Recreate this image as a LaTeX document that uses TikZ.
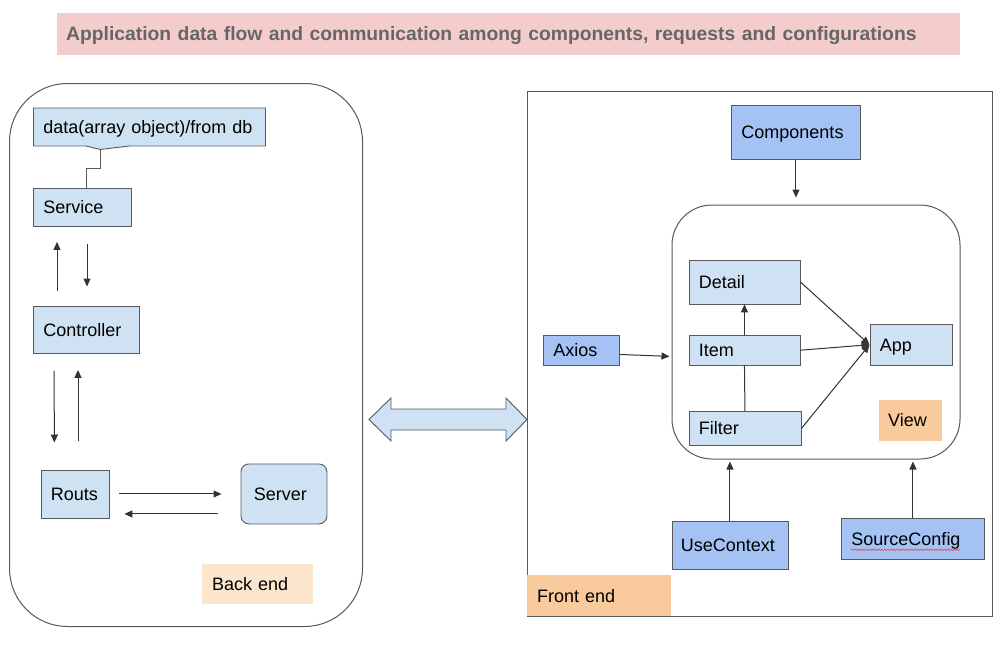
\documentclass[tikz,border=0pt]{standalone}
\usepackage{fontspec}
\setmainfont{Liberation Sans}
\usetikzlibrary{arrows.meta, shapes.callouts, decorations.pathmorphing}
\definecolor{boxblue}{HTML}{CFE2F3}
\definecolor{darkblue}{HTML}{A4C2F4}
\definecolor{peach}{HTML}{F9CB9C}
\definecolor{lightpeach}{HTML}{FCE5CD}
\definecolor{titlepink}{HTML}{F4CCCC}
\definecolor{titlegray}{HTML}{666666}
\definecolor{edge}{HTML}{595959}
\hyphenpenalty=10000
\exhyphenpenalty=10000

\begin{document}
\begin{tikzpicture}[x=1pt, y=-1pt,
  every node/.style = {font=\fontsize{18}{21}\selectfont, inner ysep=0pt,
                       inner xsep=10pt, align=left, anchor=north west,
                       text height=15pt, text depth=2pt},
  blk/.style   = {draw=edge, fill=boxblue, line width=0.9pt},
  dblk/.style  = {draw=edge, fill=darkblue, line width=0.9pt},
  tag/.style   = {fill=peach},
  frame/.style = {draw=edge, line width=1pt, inner sep=0pt},
  arr/.style   = {-{Triangle[length=8pt,width=7pt]}, line width=1pt, draw=black!80},
  ]
  \fill[white] (0,0) rectangle (1001,656);
  \useasboundingbox (0,0) rectangle (1001,656);

  % title
  \node[fill=titlepink, text=titlegray, inner xsep=9pt, text width=885pt,
        minimum height=42pt, font=\fontsize{19.3}{22}\selectfont\bfseries]
        (title) at (57,12.5) {Application data flow and communication among components, requests and configurations};

  % back end
  \node[frame, rounded corners=58pt, minimum width=353pt, minimum height=543pt] (back) at (9,83) {};
  \node[blk, rectangle callout, callout absolute pointer={(100,149.5)}, callout pointer width=44pt,
        text width=212pt, minimum height=38pt] (data) at (33,107.5) {data(array object)/from db};
  \node[blk, text width=78pt, minimum height=38pt] (srv) at (33,187.5) {Service};
  \node[blk, text width=86pt, minimum height=47.5pt] (ctl) at (33,305.5) {Controller};
  \node[blk, text width=48pt, minimum height=48pt] (rts) at (40.5,469.5) {Routs};
  \node[blk, rounded corners=8pt, inner xsep=13pt, text width=60pt, minimum height=60pt] (server) at (240.5,463.5) {Server};
  \node[fill=lightpeach, text width=91pt, minimum height=40pt] (beTag) at (202,564) {Back end};

  \draw[draw=edge, line width=0.9pt] (data.pointer) -- ++(0,18) -| ([xshift=53pt]srv.north west);
  \draw[arr, shorten <=14.5pt, shorten >=15.5pt] ([xshift=24pt]ctl.north west) -- ([xshift=24pt]srv.south west);
  \draw[arr, shorten <=18pt, shorten >=19pt] ([xshift=54pt]srv.south west) -- ([xshift=54pt]ctl.north west);
  \draw[arr, shorten <=17pt, shorten >=27pt] ([xshift=21pt]ctl.south west) -- ([xshift=14pt]rts.north west);
  \draw[arr, shorten <=29pt, shorten >=16pt] ([xshift=37.5pt]rts.north west) -- ([xshift=45pt]ctl.south west);
  \draw[arr, shorten <=10pt, shorten >=19pt] (rts.east) -- (rts.east -| server.west);
  \draw[arr, shorten <=23pt, shorten >=15pt] ([yshift=-20pt]server.west) -- ([yshift=-20pt]server.west -| rts.east);

  % link between the two ends
  \draw[draw=edge, fill=boxblue, line width=0.9pt]
    (369,419.5) -- (391,398) -- (391,409) -- (506,409) -- (506,398) -- (527,419.5)
    -- (506,441) -- (506,430) -- (391,430) -- (391,441) -- cycle;

  % front end
  \node[frame, minimum width=465pt, minimum height=525pt] (front) at (527,91) {};
  \node[tag, text width=123.5pt, minimum height=41pt] (feTag) at (527,575) {Front end};
  \node[dblk, text width=109pt, minimum height=54pt] (comp) at (731,105) {Components};
  \node[frame, fill=white, rounded corners=40pt, minimum width=288pt, minimum height=254pt] (view) at (671.5,204.5) {};
  \node[blk, text width=91pt, minimum height=44pt] (det) at (688.5,259.5) {Detail};
  \node[blk, text width=91pt, minimum height=29.5pt] (item) at (688.5,335) {Item};
  \node[blk, text width=92pt, minimum height=34pt] (flt) at (688.5,411) {Filter};
  \node[blk, text width=62pt, minimum height=41.5pt] (app) at (869.5,323.5) {App};
  \node[tag, inner xsep=9pt, text width=45pt, minimum height=41pt] (viewTag) at (879,399.5) {View};
  \node[dblk, text width=56pt, minimum height=30pt] (axios) at (543,335) {Axios};
  \node[dblk, inner xsep=9pt, text width=98pt, minimum height=48pt] (uc) at (671.5,521) {UseContext};
  \node[dblk, text width=123pt, minimum height=41.5pt] (sc) at (841,517.5) {SourceConfig};

  \draw[arr, shorten >=7pt] (comp.south) -- (comp.south |- view.north);
  \draw[arr, shorten >=2pt] ([yshift=-4pt]axios.east) -- ([yshift=-6pt]axios.east -| view.west);
  \draw[arr] (item.north) -- (det.south);
  \draw[draw=black!80, line width=1pt] (flt.north) -- (item.south);
  \draw[arr] (det.east) -- (app.west);
  \draw[arr] (item.east) -- (app.west);
  \draw[arr] (flt.east) -- (app.west);
  \draw[arr, shorten >=2pt] (uc.north) -- (uc.north |- view.south);
  \draw[arr, shorten >=2pt] (sc.north) -- (sc.north |- view.south);
  \draw[red!80, line width=0.5pt, decorate, decoration={snake, amplitude=0.8pt, segment length=3pt}]
    ([xshift=10pt,yshift=-11pt]sc.west) -- ++(109,0);
\end{tikzpicture}
\end{document}
